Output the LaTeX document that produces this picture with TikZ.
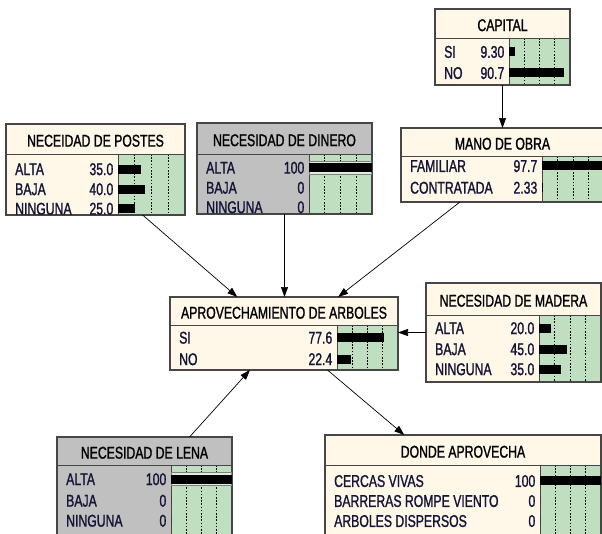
\documentclass[tikz,border=0pt]{standalone}
\usepackage{fontspec}
\newfontfamily\bnfont{Liberation Sans}[FakeStretch=0.72,FakeBold=1.2]
\usetikzlibrary{arrows.meta,fit}
\definecolor{cream}{RGB}{255,248,232}
\definecolor{bngray}{RGB}{192,192,192}
\definecolor{bargreen}{RGB}{192,222,192}
\definecolor{bnborder}{RGB}{70,70,70}
\definecolor{bntext}{RGB}{20,20,55}
\tikzset{
  bnframe/.style={draw=none, rectangle, inner sep=0pt, outer sep=0pt},
  bnedge/.style={draw=bnborder, line width=1.1pt},
  sepline/.style={draw=bnborder, line width=0.8pt},
  gridline/.style={draw=black, line width=0.6pt, dash pattern=on 1.6pt off 1.6pt},
  bntitle/.style={font=\bnfont\fontsize{17}{19}\selectfont, text=black, inner sep=0pt, anchor=base},
  bnlabel/.style={font=\bnfont\fontsize{17}{19}\selectfont, text=bntext, inner sep=0pt},
  link/.style={draw=black, line width=0.7pt, -{Triangle[length=10pt,width=7pt]}},
  findbar/.style={draw=gray, line width=0.8pt, fill=bargreen!50!white},
}
% #1 name, #2 x1, #3 y1, #4 x2, #5 y2, #6 separator y, #7 bar x, #8 fill, #9 title
\newcommand\bnbox[9]{%
  \node[bnframe, fill=#8, fit={(#2,#3) (#4,#5)}] (#1) {};
  \fill[bargreen] (#7,#6) rectangle (#4,#5);
  \pgfmathsetmacro\bnq{(#4-#7)/4}
  \foreach \k in {1,2,3} {\draw[gridline] ({#7+\k*\bnq},#6) -- ({#7+\k*\bnq},#5);}
  \draw[sepline] (#2,#6) -- (#4,#6);
  \draw[sepline] (#7,#6) -- (#7,#5);
  \node[bntitle] (#1-title) at ({(#2+#4)/2},{(#3+#6)/2+7.6}) {#9};
  \draw[bnedge] (#1.north west) rectangle (#1.south east);
}
% #1 name, #2 x1, #3 bar x, #4 x2, #5 y, #6 label, #7 value, #8 percent
\newcommand\bnrow[8]{%
  \node[bnlabel, anchor=base west] (#1-l) at ({#2+9},{#5+6.1}) {#6};
  \node[bnlabel, anchor=base east] (#1-v) at ({#3-4.5},{#5+6.1}) {#7};
  \fill[black] (#3,{#5-4.5}) rectangle ({#3+(#4-#3)*#8/100},{#5+4.5});
}
% finding row (100 %, outlined bar)
\newcommand\bnfind[7]{%
  \node[bnlabel, anchor=base west] (#1-l) at ({#2+9},{#5+6.1}) {#6};
  \node[bnlabel, anchor=base east] (#1-v) at ({#3-4.5},{#5+6.1}) {#7};
  \draw[findbar] ({#3+0.5},{#5-6.5}) rectangle ({#4-0.5},{#5+6.5});
  \fill[black] (#3,{#5-4.5}) rectangle (#4,{#5+4.5});
}
\begin{document}
\begin{tikzpicture}[x=1pt,y=-1pt]
\useasboundingbox (0,0) rectangle (602,533);
\clip (0,0) rectangle (602,533);
\fill[white] (0,0) rectangle (602,533);

% CAPITAL
\bnbox{capital}{435}{9}{570}{85}{38}{509}{cream}{CAPITAL}
\bnrow{cap1}{435}{509}{570}{51.7}{SI}{9.30}{9.30}
\bnrow{cap2}{435}{509}{570}{72.8}{NO}{90.7}{90.7}

% NECEIDAD DE POSTES
\bnbox{postes}{6}{124}{185}{215}{154}{118}{cream}{NECEIDAD DE POSTES}
\bnrow{pos1}{6}{118}{185}{169}{ALTA}{35.0}{35}
\bnrow{pos2}{6}{118}{185}{189}{BAJA}{40.0}{40}
\bnrow{pos3}{6}{118}{185}{208.5}{NINGUNA}{25.0}{25}

% NECESIDAD DE DINERO
\bnbox{dinero}{197}{123}{372}{214}{154}{309}{bngray}{NECESIDAD DE DINERO}
\bnfind{din1}{197}{309}{372}{167.5}{ALTA}{100}
\bnrow{din2}{197}{309}{372}{187.5}{BAJA}{0}{0}
\bnrow{din3}{197}{309}{372}{207}{NINGUNA}{0}{0}

% MANO DE OBRA
\bnbox{mano}{401}{128}{604}{202}{156}{542}{cream}{MANO DE OBRA}
\bnrow{man1}{401}{542}{604}{165.8}{FAMILIAR}{97.7}{97.7}
\bnrow{man2}{401}{542}{604}{187.5}{CONTRATADA}{2.33}{2.33}

% APROVECHAMIENTO DE ARBOLES
\bnbox{aprov}{170}{297}{398}{370}{325}{337}{cream}{APROVECHAMIENTO DE ARBOLES}
\bnrow{apr1}{170}{337}{398}{337.5}{SI}{77.6}{77.6}
\bnrow{apr2}{170}{337}{398}{359}{NO}{22.4}{22.4}

% NECESIDAD DE MADERA
\bnbox{madera}{426}{283}{601}{382}{315}{539}{cream}{NECESIDAD DE MADERA}
\bnrow{mad1}{426}{539}{601}{328}{ALTA}{20.0}{20}
\bnrow{mad2}{426}{539}{601}{349}{BAJA}{45.0}{45}
\bnrow{mad3}{426}{539}{601}{369}{NINGUNA}{35.0}{35}

% NECESIDAD DE LENA
\bnbox{lena}{57}{437}{232}{537}{465}{171}{bngray}{NECESIDAD DE LENA}
\bnfind{len1}{57}{171}{232}{479}{ALTA}{100}
\bnrow{len2}{57}{171}{232}{500.5}{BAJA}{0}{0}
\bnrow{len3}{57}{171}{232}{520.5}{NINGUNA}{0}{0}

% DONDE APROVECHA
\bnbox{donde}{325}{435}{601}{537}{465}{540}{cream}{DONDE APROVECHA}
\bnrow{don1}{325}{540}{601}{480.8}{CERCAS VIVAS}{100}{100}
\bnrow{don2}{325}{540}{601}{500.8}{BARRERAS ROMPE VIENTO}{0}{0}
\bnrow{don3}{325}{540}{601}{520.8}{ARBOLES DISPERSOS}{0}{0}

% links
\draw[link] (capital.south) -- (mano.north);
\draw[link] (postes.-44) -- (aprov.142);
\draw[link] (dinero.south) -- (dinero.south |- aprov.north);
\draw[link] (mano.-139) -- (aprov.34);
\draw[link] (madera.west) -- (madera.west -| aprov.east);
\draw[link] (lena.48) -- (aprov.-133);
\draw[link] (aprov.-40) -- (donde.139);
\end{tikzpicture}
\end{document}
